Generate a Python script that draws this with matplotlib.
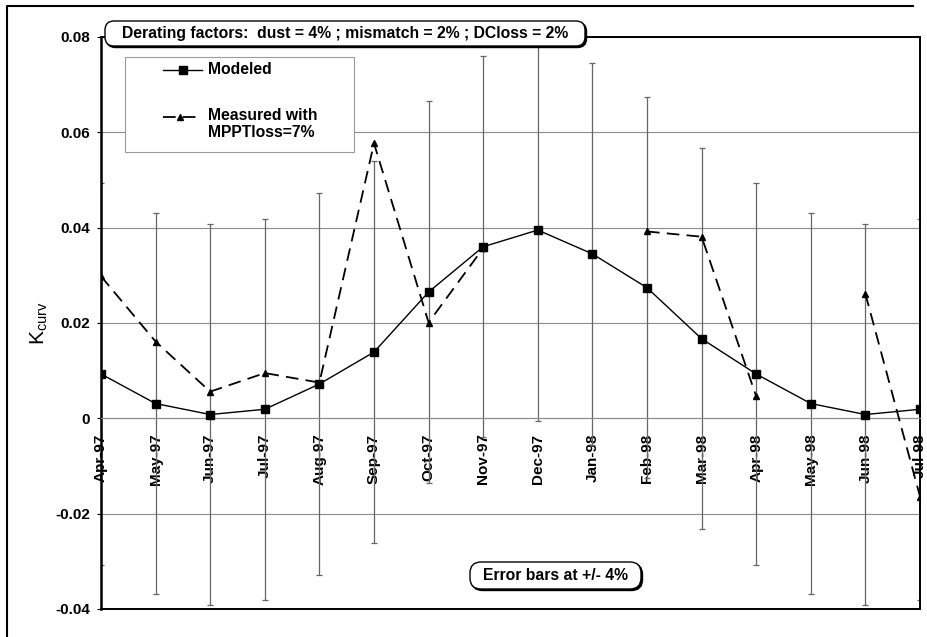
import numpy as np
import matplotlib
matplotlib.use("Agg")
import matplotlib.pyplot as plt
from matplotlib.lines import Line2D
from matplotlib.patches import FancyBboxPatch
from matplotlib.transforms import IdentityTransform

# monthly curvature factor, modeled vs measured
months = ["Apr-97", "May-97", "Jun-97", "Jul-97", "Aug-97", "Sep-97", "Oct-97",
          "Nov-97", "Dec-97", "Jan-98", "Feb-98", "Mar-98", "Apr-98", "May-98",
          "Jun-98", "Jul-98"]
modeled = [0.0093, 0.0031, 0.0008, 0.0019, 0.0072, 0.0139, 0.0265, 0.0360,
           0.0395, 0.0345, 0.0274, 0.0167, 0.0093, 0.0031, 0.0008, 0.0019]
# None = no measurement that month
measured = [0.0298, 0.0161, 0.0056, 0.0095, 0.0075, 0.0577, 0.0201, 0.0357,
            None, None, 0.0392, 0.0381, 0.0046, None, 0.0261, -0.0164]
error_pct = 0.04

y_ticks = [-0.04, -0.02, 0, 0.02, 0.04, 0.06, 0.08]
y_ticklabels = ["-0.04", "-0.02", "0", "0.02", "0.04", "0.06", "0.08"]

plt.rcParams["font.family"] = ["Liberation Sans", "DejaVu Sans"]
plt.rcParams["font.weight"] = "bold"

W, H = 928, 637
fig = plt.figure(figsize=(W / 100, H / 100), dpi=100)
ax = fig.add_axes([101 / W, 1 - 609 / H, 819 / W, 572 / H])

# category axis crosses at zero (set before ticks, it resets them)
ax.spines["bottom"].set_position(("data", 0))
ax.spines["bottom"].set_color("#8c8c8c")
ax.spines["bottom"].set_linewidth(0.8)
ax.spines["left"].set_linewidth(1.8)
ax.spines["top"].set_linewidth(1.4)
ax.spines["right"].set_linewidth(1.4)

x = np.arange(len(months))
meas = np.array([np.nan if v is None else v for v in measured], dtype=float)

ax.errorbar(x, modeled, yerr=error_pct, fmt="none", ecolor="#666666",
            elinewidth=0.9, capsize=2.5, capthick=0.9, zorder=2)
ax.plot(x, modeled, color="black", lw=1.0, marker="s", ms=5.5, zorder=4)
ax.plot(x, meas, color="black", lw=1.3, dashes=(7, 4), marker="^", ms=5,
        zorder=3)

ax.set_xlim(0, len(months) - 1)
ax.set_ylim(-0.04, 0.08)
ax.set_yticks(y_ticks)
ax.set_yticklabels(y_ticklabels, fontsize=11, fontweight="bold")
ax.set_xticks(x)
ax.set_xticklabels(months, rotation=90, fontsize=11, fontweight="bold")
ax.tick_params(axis="x", length=0, pad=11)
ax.tick_params(axis="y", length=3, width=0.8, pad=5)
ax.yaxis.grid(True, color="#8c8c8c", lw=0.8)
ax.set_axisbelow(True)

ax.plot([0, 1], [0, 0], transform=ax.transAxes, color="black", lw=1.4,
        clip_on=False, zorder=5)

ax.set_ylabel(r"$\mathregular{K_{curv}}$", fontsize=15, fontweight="normal")
ax.yaxis.set_label_coords(-0.062, 0.5)


def px(x0, y0):
    # pixel position from the top-left corner -> display coords
    return x0, H - y0


def rounded_box(x0, y0, x1, y1, text, r=9):
    ax0, ay1 = px(x0, y1)
    shadow = FancyBboxPatch((ax0 + 1.5, ay1 - 1.5), x1 - x0, y1 - y0,
                            boxstyle=f"round,pad=0,rounding_size={r}",
                            transform=IdentityTransform(), fc="black",
                            ec="black", lw=1.0, zorder=10)
    box = FancyBboxPatch((ax0, ay1), x1 - x0, y1 - y0,
                         boxstyle=f"round,pad=0,rounding_size={r}",
                         transform=IdentityTransform(), fc="white",
                         ec="black", lw=1.0, zorder=11)
    fig.add_artist(shadow)
    fig.add_artist(box)
    cx, cy = px((x0 + x1) / 2, (y0 + y1) / 2)
    fig.text(cx / W, cy / H, text, ha="center", va="center", fontsize=11.3,
             fontweight="bold", zorder=12)


rounded_box(105, 21, 585, 46,
            "Derating factors:  dust = 4% ; mismatch = 2% ; DCloss = 2%")
rounded_box(470, 562, 641, 589, "Error bars at +/- 4%", r=11)

# legend
lx0, ly0, lx1, ly1 = 125, 57, 354, 152
leg = FancyBboxPatch(px(lx0, ly1), lx1 - lx0, ly1 - ly0,
                     boxstyle="square,pad=0", transform=IdentityTransform(),
                     fc="white", ec="#9a9a9a", lw=0.8, zorder=10)
fig.add_artist(leg)
hy = H - 70
fig.add_artist(Line2D([163, 182.5, 202], [hy, hy, hy], color="black", lw=1.0,
                      marker="s", ms=5.5, markevery=[1],
                      transform=IdentityTransform(), zorder=11))
hy = H - 117
fig.add_artist(Line2D([163, 180, 197], [hy, hy, hy], color="black", lw=1.3,
                      dashes=(7, 4), marker="^", ms=5, markevery=[1],
                      transform=IdentityTransform(), zorder=11))
fig.text(208 / W, 1 - 69 / H, "Modeled", ha="left", va="center", fontsize=11.3,
         fontweight="bold", zorder=12)
fig.text(208 / W, 1 - 124 / H, "Measured with\nMPPTloss=7%", ha="left",
         va="center", fontsize=11.3, fontweight="bold", linespacing=1.15,
         zorder=12)

# outer frame (left and top edges)
fig.add_artist(Line2D([7, 7, 913], [0, H - 6, H - 6], color="black", lw=1.5,
                      transform=IdentityTransform()))

fig.savefig("out.png", dpi=100)
